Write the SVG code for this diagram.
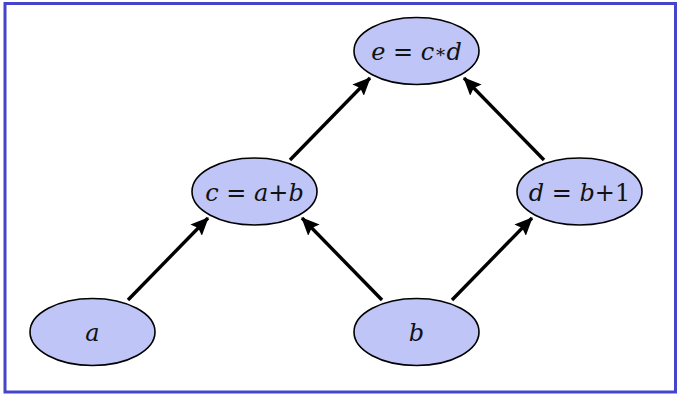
<svg xmlns="http://www.w3.org/2000/svg" width="681" height="401" viewBox="0 0 681 401">
<style>
.node ellipse{fill:#bfc5f7;stroke:#000;stroke-width:1.6}
.node text{font-family:"DejaVu Serif",serif;font-size:24px;text-anchor:middle;fill:#111}
.v{font-style:italic}
.s{font-size:18px}
.edge{stroke:#000;stroke-width:3.4;fill:none;marker-end:url(#ah)}
</style>
<defs>
<marker id="ah" markerUnits="userSpaceOnUse" viewBox="0 0 18 16" refX="17" refY="8" markerWidth="18" markerHeight="16" orient="auto">
<path d="M0,0 L18,8 L0,16 L3,8 Z" fill="#000"/>
</marker>
</defs>
<rect x="5" y="3.5" width="670.5" height="388.5" fill="#fff" stroke="#4444cc" stroke-width="3"/>
<g id="connectors">
<line class="edge" x1="128" y1="300" x2="208" y2="218"/>
<line class="edge" x1="290" y1="160" x2="370" y2="78"/>
<line class="edge" x1="382" y1="300" x2="302" y2="218"/>
<line class="edge" x1="452" y1="300" x2="532" y2="218"/>
<line class="edge" x1="544" y1="160" x2="464" y2="78"/>
</g>
<g id="node-e" class="node"><ellipse cx="416.5" cy="51" rx="62.5" ry="33.5"/><text x="416.5" y="60"><tspan class="v">e</tspan> = <tspan class="v">c</tspan><tspan class="s" dy="-2">∗</tspan><tspan class="v" dy="2">d</tspan></text></g>
<g id="node-c" class="node"><ellipse cx="254.5" cy="191.5" rx="62.5" ry="33.5"/><text x="254.5" y="200.5"><tspan class="v">c</tspan> = <tspan class="v">a</tspan>+<tspan class="v">b</tspan></text></g>
<g id="node-d" class="node"><ellipse cx="579.5" cy="191.5" rx="62.5" ry="33.5"/><text x="579.5" y="200.5"><tspan class="v">d</tspan> = <tspan class="v">b</tspan>+1</text></g>
<g id="node-a" class="node"><ellipse cx="92.5" cy="332" rx="62.5" ry="33.5"/><text x="92.5" y="341" class="v">a</text></g>
<g id="node-b" class="node"><ellipse cx="416.5" cy="332" rx="62.5" ry="33.5"/><text x="416.5" y="341" class="v">b</text></g>
</svg>
